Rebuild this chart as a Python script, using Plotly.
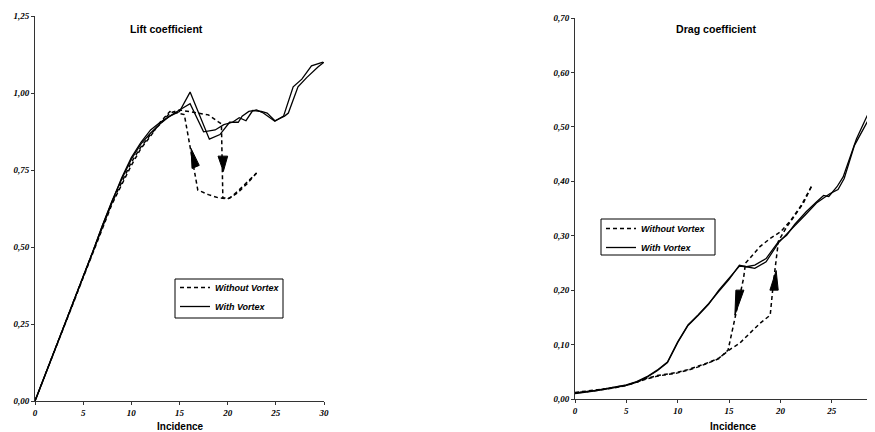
import plotly.graph_objects as go

# ---------------- Lift coefficient data ----------------
lift_wv_a_x = [0, 1, 2, 3, 4, 5, 6, 7, 8, 9, 10, 11, 12, 13, 14, 15, 16.1, 18.1, 19.2, 20.2, 21.1, 21.5, 22.2, 23.0, 23.7, 24.9, 25.8, 26.8, 27.7, 28.7, 29.9]
lift_wv_a_y = [0, 0.08, 0.16, 0.24, 0.32, 0.40, 0.485, 0.57, 0.65, 0.725, 0.79, 0.84, 0.88, 0.905, 0.925, 0.94, 1.003, 0.85, 0.865, 0.905, 0.905, 0.925, 0.94, 0.945, 0.935, 0.908, 0.925, 1.02, 1.045, 1.088, 1.10]

lift_wv_b_x = [0, 1, 2, 3, 4, 5, 6, 7, 8, 9, 10, 11, 12, 13, 14, 15, 16.1, 17.5, 18.7, 19.6, 20.5, 21.2, 21.9, 22.6, 23.5, 24.1, 24.9, 25.9, 26.3, 27.3, 28.2, 29.4, 30]
lift_wv_b_y = [0, 0.08, 0.16, 0.24, 0.32, 0.40, 0.485, 0.57, 0.65, 0.72, 0.785, 0.835, 0.87, 0.9, 0.925, 0.945, 0.965, 0.874, 0.88, 0.897, 0.905, 0.92, 0.91, 0.943, 0.94, 0.935, 0.91, 0.925, 0.935, 1.02, 1.05, 1.085, 1.10]

lift_nv_up_x = [0, 1, 2, 3, 4, 5, 6, 7, 8, 9, 10, 11, 12, 13, 14, 15, 16.6, 18.0, 19.0, 19.35, 19.5, 20.2, 21.0, 22.0, 23.0]
lift_nv_up_y = [0, 0.08, 0.16, 0.24, 0.32, 0.40, 0.485, 0.565, 0.645, 0.71, 0.775, 0.825, 0.865, 0.9, 0.935, 0.945, 0.936, 0.929, 0.907, 0.9, 0.66, 0.658, 0.68, 0.71, 0.74]

lift_nv_dn_x = [23.0, 22.0, 21.0, 20.0, 19.0, 18.0, 16.9, 15.5, 14, 13, 12, 11, 10, 9, 8, 7, 6, 5, 4, 3, 2, 1, 0]
lift_nv_dn_y = [0.74, 0.705, 0.675, 0.656, 0.66, 0.67, 0.685, 0.93, 0.94, 0.905, 0.86, 0.82, 0.765, 0.705, 0.64, 0.56, 0.48, 0.40, 0.32, 0.24, 0.16, 0.08, 0]

# arrow heads (tip first) in data units
lift_arrow_up_x = [16.2, 16.3, 17.05]
lift_arrow_up_y = [0.82, 0.755, 0.765]
lift_arrow_dn_x = [19.55, 19.0, 20.0]
lift_arrow_dn_y = [0.745, 0.795, 0.795]

# ---------------- Drag coefficient data ----------------
drag_wv_a_x = [0, 1, 2, 3, 4, 5, 6, 7, 8, 9, 10, 11, 12, 13, 14, 15, 16, 16.7, 17.5, 18.6, 19.8, 20.6, 21.4, 22.5, 23.5, 24.2, 24.7, 25.5, 26.1, 27.4, 28.3, 29.2]
drag_wv_a_y = [0.011, 0.013, 0.016, 0.019, 0.022, 0.026, 0.032, 0.041, 0.053, 0.068, 0.105, 0.136, 0.155, 0.175, 0.198, 0.22, 0.246, 0.243, 0.246, 0.258, 0.289, 0.301, 0.321, 0.344, 0.362, 0.374, 0.372, 0.39, 0.408, 0.478, 0.515, 0.55]

drag_wv_b_x = [0, 1, 2, 3, 4, 5, 6, 7, 8, 9, 10, 11, 12, 13, 14, 15, 16, 16.7, 17.5, 18.6, 19.8, 20.6, 21.4, 22.5, 23.5, 24.3, 24.8, 25.6, 26.2, 27.2, 28.3, 29.2]
drag_wv_b_y = [0.010, 0.012, 0.015, 0.018, 0.021, 0.025, 0.031, 0.04, 0.052, 0.067, 0.104, 0.135, 0.154, 0.174, 0.2, 0.222, 0.244, 0.243, 0.240, 0.252, 0.287, 0.303, 0.318, 0.34, 0.36, 0.371, 0.377, 0.385, 0.405, 0.466, 0.505, 0.535]

drag_nv_up_x = [0, 1, 2, 3, 4, 5, 6, 7, 8, 9, 10, 11, 12, 13, 14, 15, 16, 17, 18, 19, 19.3, 19.8, 20.6, 21.2, 22.2, 23.0]
drag_nv_up_y = [0.012, 0.014, 0.017, 0.019, 0.022, 0.025, 0.031, 0.038, 0.043, 0.046, 0.049, 0.054, 0.06, 0.067, 0.075, 0.09, 0.102, 0.12, 0.139, 0.154, 0.212, 0.29, 0.316, 0.332, 0.359, 0.39]

drag_nv_dn_x = [23.0, 22.0, 21.0, 20.0, 19.0, 18.0, 17.0, 16.6, 16.4, 15.2, 14.9, 14, 13, 12, 11, 10, 9, 8, 7, 6, 5, 4, 3, 2, 1, 0]
drag_nv_dn_y = [0.39, 0.355, 0.328, 0.307, 0.295, 0.28, 0.258, 0.25, 0.221, 0.12, 0.09, 0.074, 0.066, 0.059, 0.053, 0.048, 0.045, 0.042, 0.037, 0.031, 0.025, 0.021, 0.018, 0.016, 0.013, 0.011]

drag_arrow_dn_x = [15.56, 15.66, 16.44]
drag_arrow_dn_y = [0.154, 0.2, 0.2]
drag_arrow_up_x = [19.58, 18.97, 19.78]
drag_arrow_up_y = [0.236, 0.2, 0.2]

# ---------------- text ----------------
legend_labels = ["Without Vortex", "With Vortex"]
titles = ["Lift coefficient", "Drag coefficient"]
x_title = "Incidence"

# page body adds an 8px offset; the figure is sized to fit the remaining viewport
OFF = 8
W, H = 875 - OFF, 432 - OFF

def px(xr):   # reference x pixel -> paper fraction
    return (xr - OFF) / W

def py(yr):   # reference y pixel -> paper fraction
    return 1 - (yr - OFF) / H

title_font = dict(family="Liberation Sans", size=10.6, color="black", weight="bold")
sans_bold = dict(family="Liberation Sans", size=10, color="black", weight="bold")
tick_font = dict(family="Liberation Serif", size=9, color="black", weight="bold", style="italic")
leg_font = dict(family="Liberation Sans", size=9, color="black", weight="bold", style="italic")

fig = go.Figure()

dash_style = dict(color="black", width=1.5, dash="4px,3px")
solid_style = dict(color="black", width=1.3)

def add(x, y, line, xa, ya, name, show, legend):
    fig.add_trace(go.Scatter(x=x, y=y, mode="lines", line=line, xaxis=xa, yaxis=ya,
                             name=name, showlegend=show, legend=legend, hoverinfo="skip"))

add(lift_nv_up_x, lift_nv_up_y, dash_style, "x", "y", legend_labels[0], True, "legend")
add(lift_nv_dn_x, lift_nv_dn_y, dash_style, "x", "y", legend_labels[0], False, "legend")
add(lift_wv_a_x, lift_wv_a_y, solid_style, "x", "y", legend_labels[1], True, "legend")
add(lift_wv_b_x, lift_wv_b_y, solid_style, "x", "y", legend_labels[1], False, "legend")

add(drag_nv_up_x, drag_nv_up_y, dash_style, "x2", "y2", legend_labels[0], True, "legend2")
add(drag_nv_dn_x, drag_nv_dn_y, dash_style, "x2", "y2", legend_labels[0], False, "legend2")
add(drag_wv_a_x, drag_wv_a_y, solid_style, "x2", "y2", legend_labels[1], True, "legend2")
add(drag_wv_b_x, drag_wv_b_y, solid_style, "x2", "y2", legend_labels[1], False, "legend2")

def tri(xs, ys, xref, yref):
    path = "M {} {} L {} {} L {} {} Z".format(xs[0], ys[0], xs[1], ys[1], xs[2], ys[2])
    fig.add_shape(type="path", path=path, xref=xref, yref=yref,
                  fillcolor="black", line=dict(color="black", width=1))

tri(lift_arrow_up_x, lift_arrow_up_y, "x", "y")
tri(lift_arrow_dn_x, lift_arrow_dn_y, "x", "y")
tri(drag_arrow_dn_x, drag_arrow_dn_y, "x2", "y2")
tri(drag_arrow_up_x, drag_arrow_up_y, "x2", "y2")

# legend frames
for (x0, y0, x1, y1) in [(175, 279, 283, 318), (601, 219, 715, 255)]:
    fig.add_shape(type="rect", xref="paper", yref="paper", x0=px(x0), x1=px(x1),
                  y0=py(y1), y1=py(y0), line=dict(color="black", width=1),
                  fillcolor="rgba(0,0,0,0)", layer="above")

axis_common = dict(showline=True, linecolor="#333333", linewidth=1, showgrid=False, zeroline=False,
                   ticks="outside", ticklen=3, tickcolor="#333333", tickfont=tick_font,
                   fixedrange=True, automargin=False)

fig.update_layout(
    width=W, height=H,
    margin=dict(l=0, r=0, t=0, b=0, autoexpand=False),
    paper_bgcolor="white", plot_bgcolor="white",
    separators=",.",
    xaxis=dict(domain=[px(35), px(324)], range=[0, 30], tickvals=[0, 5, 10, 15, 20, 25, 30],
               anchor="y", **axis_common),
    yaxis=dict(domain=[py(401), py(16)], range=[0, 1.25], dtick=0.25, tickformat=".2f",
               anchor="x", **axis_common),
    xaxis2=dict(domain=[px(575), 1.0], range=[0, 29.2], tickvals=[0, 5, 10, 15, 20, 25],
                anchor="y2", **axis_common),
    yaxis2=dict(domain=[py(399), py(18)], range=[0, 0.70], dtick=0.10, tickformat=".2f",
                anchor="x2", **axis_common),
    legend=dict(x=px(175), y=py(288 - 15), xanchor="left", yanchor="top", borderwidth=0,
                font=leg_font, bgcolor="rgba(255,255,255,0)", itemwidth=30, tracegroupgap=0),
    legend2=dict(x=px(601), y=py(229 - 15), xanchor="left", yanchor="top", borderwidth=0,
                 font=leg_font, bgcolor="rgba(255,255,255,0)", itemwidth=30, tracegroupgap=0),
    showlegend=True,
)

fig.add_annotation(text=titles[0], x=px(166), y=py(29), xref="paper", yref="paper",
                   showarrow=False, font=title_font, xanchor="center", yanchor="middle")
fig.add_annotation(text=titles[1], x=px(716), y=py(29), xref="paper", yref="paper",
                   showarrow=False, font=title_font, xanchor="center", yanchor="middle")
fig.add_annotation(text=x_title, x=px(180), y=py(426), xref="paper", yref="paper",
                   showarrow=False, font=sans_bold, xanchor="center", yanchor="middle")
fig.add_annotation(text=x_title, x=px(733), y=py(426), xref="paper", yref="paper",
                   showarrow=False, font=sans_bold, xanchor="center", yanchor="middle")

fig.write_html("out.html")
